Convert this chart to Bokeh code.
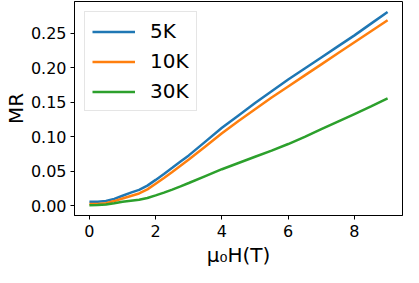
from bokeh.plotting import figure
from bokeh.models import FixedTicker, PrintfTickFormatter, Range1d, Legend, LegendItem, Title
from bokeh.embed import file_html
from bokeh.resources import INLINE

field = [0.0, 0.25, 0.5, 0.75, 1.0, 1.25, 1.5, 1.75, 2.0, 2.25, 2.5, 2.75, 3.0,
         3.5, 4.0, 4.5, 5.0, 5.5, 6.0, 6.5, 7.0, 7.5, 8.0, 8.5, 9.0]
mr_5k = [0.0057, 0.0059, 0.0068, 0.0100, 0.0145, 0.0190, 0.0230, 0.0292, 0.0375, 0.0462,
         0.0550, 0.0640, 0.0730, 0.093, 0.113, 0.131, 0.149, 0.166, 0.183, 0.199, 0.215,
         0.231, 0.247, 0.264, 0.281]
mr_10k = [0.0024, 0.0026, 0.0038, 0.0068, 0.0105, 0.0142, 0.0178, 0.0238, 0.0318, 0.0403,
          0.0490, 0.0580, 0.0670, 0.086, 0.105, 0.123, 0.140, 0.157, 0.173, 0.189, 0.205,
          0.221, 0.237, 0.253, 0.269]
mr_30k = [0.0008, 0.0010, 0.0020, 0.0038, 0.0058, 0.0073, 0.0086, 0.0112, 0.0150, 0.0190,
          0.0235, 0.0281, 0.0330, 0.043, 0.053, 0.062, 0.071, 0.080, 0.0895, 0.100, 0.111,
          0.122, 0.133, 0.144, 0.1555]
labels = ["5K", "10K", "30K"]
colors = ["#1f77b4", "#ff7f0e", "#2ca02c"]
x_ticks = [0, 2, 4, 6, 8]
y_ticks = [0.0, 0.05, 0.10, 0.15, 0.20, 0.25]
x_title = "μ₀H(T)"
y_title = "MR"

p = figure(width=403, height=267, output_backend="svg", toolbar_location=None,
           x_range=Range1d(-0.45, 9.45), y_range=Range1d(-0.0141, 0.2961),
           min_border_left=69, min_border_top=1, min_border_right=1, min_border_bottom=0)
p.background_fill_color = "white"
p.border_fill_color = "white"
p.outline_line_color = "black"
p.outline_line_width = 1
p.xgrid.visible = False
p.ygrid.visible = False

items = []
for ys, lab, col in zip([mr_5k, mr_10k, mr_30k], labels, colors):
    r = p.line(field, ys, line_color=col, line_width=2.5)
    items.append(LegendItem(label=lab, renderers=[r]))

legend = Legend(items=items, location="top_left", margin=10)
legend.label_text_font = "DejaVu Sans"
legend.label_text_font_size = "20px"
legend.label_text_color = "black"
legend.label_height = 23
legend.glyph_height = 23
legend.glyph_width = 43
legend.label_standoff = 15
legend.spacing = 6
legend.padding = 7
legend.border_line_color = "#cccccc"
legend.border_line_width = 1
legend.background_fill_alpha = 0.8
p.add_layout(legend)

for ax in (p.xaxis[0], p.yaxis[0]):
    ax.axis_line_color = "black"
    ax.major_tick_line_color = "black"
    ax.major_tick_out = 4
    ax.major_tick_in = 0
    ax.minor_tick_line_color = None
    ax.major_label_text_font = "DejaVu Sans"
    ax.major_label_text_font_size = "16px"
    ax.major_label_text_color = "black"
    ax.axis_label_text_font = "DejaVu Sans"
    ax.axis_label_text_font_size = "20px"
    ax.axis_label_text_font_style = "normal"
    ax.axis_label_text_color = "black"

p.xaxis.ticker = FixedTicker(ticks=x_ticks)
p.yaxis.ticker = FixedTicker(ticks=y_ticks)
p.yaxis.formatter = PrintfTickFormatter(format="%.2f")
p.yaxis.axis_label = y_title
p.xaxis.major_label_standoff = 5
p.yaxis.major_label_standoff = 4
p.yaxis.axis_label_standoff = 0

x_label = Title(text=x_title, align="center", text_font="DejaVu Sans",
                text_font_size="20px", text_font_style="normal", text_color="black",
                standoff=2, offset=0)
p.add_layout(x_label, "below")

open("out.html", "w").write(file_html(p, INLINE))
